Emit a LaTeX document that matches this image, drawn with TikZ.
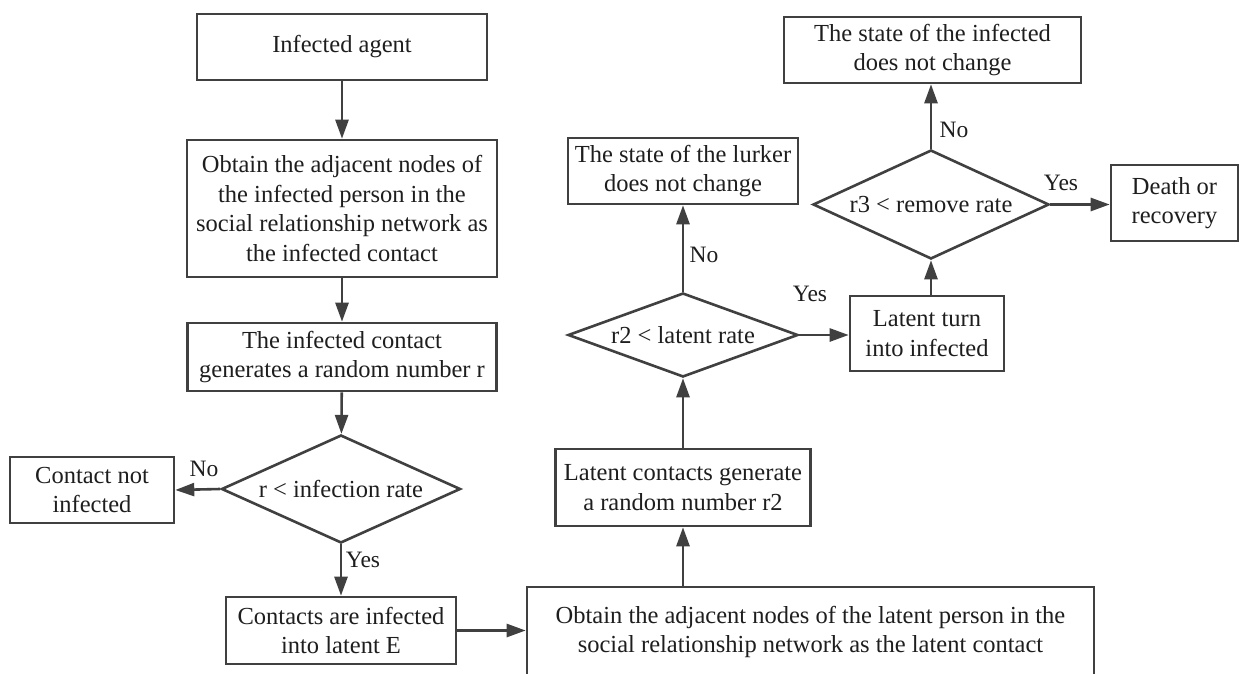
\documentclass[tikz,border=0pt]{standalone}
\usepackage{fontspec}
\setmainfont{Liberation Serif}
\usetikzlibrary{shapes.geometric,arrows.meta}
\definecolor{edge}{HTML}{404040}
\definecolor{ink}{HTML}{1E1E1E}
\tikzset{
  box/.style={draw=edge, line width=2.6bp, rectangle, inner sep=0pt,
    align=center, text=ink, font=\fontsize{24.5bp}{29.5bp}\selectfont},
  decision/.style={draw=edge, line width=2.6bp, diamond, inner sep=0pt,
    align=center, text=ink, font=\fontsize{24.5bp}{29.5bp}\selectfont},
  flow/.style={draw=edge, line width=2.6bp,
    -{Triangle[length=19bp,width=13bp]}},
  answer/.style={inner sep=0pt, text=ink, font=\fontsize{23.5bp}{28bp}\selectfont}
}
\begin{document}
\begin{tikzpicture}[x=1bp, y=-1bp]
\clip (0,0) rectangle (1242,674);
\fill[white] (0,0) rectangle (1242,674);

% left column: infection of contacts
\node[box, minimum width=290bp, minimum height=66bp] (agent) at (342,47) {Infected agent};
\node[box, minimum width=310bp, minimum height=137bp] (obtainI) at (342,208.5)
  {Obtain the adjacent nodes of\\the infected person in the\\social relationship network as\\the infected contact};
\node[box, minimum width=309bp, minimum height=68bp] (genR) at (342,357)
  {The infected contact\\generates a random number r};
\node[decision, aspect=2.213, minimum width=239bp, minimum height=108bp] (dInf) at (341,489) {r < infection rate};
\node[box, minimum width=164bp, minimum height=66bp] (notInf) at (92,490) {Contact not\\infected};
\node[box, minimum width=230bp, minimum height=67bp] (toLatent) at (341,630.5)
  {Contacts are infected\\into latent E};

% bottom and middle column: latent contacts
\node[box, minimum width=567bp, minimum height=90bp] (obtainL) at (810.5,632)
  {Obtain the adjacent nodes of the latent person in the\\social relationship network as the latent contact};
\node[box, minimum width=255bp, minimum height=77bp] (genR2) at (683,487.5)
  {Latent contacts generate\\a random number r2};
\node[decision, aspect=2.738, minimum width=230bp, minimum height=84bp] (dLat) at (683,335) {r2 < latent rate};
\node[box, minimum width=230bp, minimum height=66bp] (lurker) at (683,171)
  {The state of the lurker\\does not change};

% right column: removal of the infected
\node[box, minimum width=154bp, minimum height=75bp] (turn) at (927,333.5)
  {Latent turn\\into infected};
\node[decision, aspect=2.165, minimum width=236bp, minimum height=109bp] (dRem) at (931,204.5) {r3 < remove rate};
\node[box, minimum width=297bp, minimum height=66bp] (stay) at (932.5,50)
  {The state of the infected\\does not change};
\node[box, minimum width=127bp, minimum height=76bp] (death) at (1174.5,203)
  {Death or\\recovery};

% connectors
\draw[flow] (agent) -- (obtainI);
\draw[flow] (obtainI) -- (genR);
\draw[flow] (genR) -- (dInf);
\draw[flow] (dInf.west) -- (notInf.east);
\draw[flow] (dInf.south) -- (toLatent.north);
\draw[flow] (toLatent.east) -- (toLatent.east -| obtainL.west);
\draw[flow] (genR2.south |- obtainL.north) -- (genR2.south);
\draw[flow] (genR2.north) -- (dLat.south);
\draw[flow] (dLat.north) -- (lurker.south);
\draw[flow] (dLat.east) -- (dLat.east -| turn.west);
\draw[flow] (dRem.south |- turn.north) -- (dRem.south);
\draw[flow] (dRem.north) -- (dRem.north |- stay.south);
\draw[flow] (dRem.east) -- (dRem.east -| death.west);

% branch labels
\node[answer] (noInf) at (204,469) {No};
\node[answer] (yesInf) at (363,560) {Yes};
\node[answer] (noLat) at (704,255) {No};
\node[answer] (yesLat) at (810,294) {Yes};
\node[answer] (noRem) at (954,130) {No};
\node[answer] (yesRem) at (1061,183) {Yes};
\end{tikzpicture}
\end{document}
